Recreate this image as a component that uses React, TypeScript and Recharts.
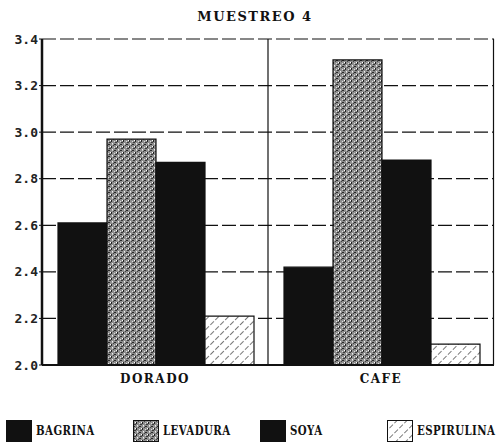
import React from 'react';
import { BarChart, Bar, XAxis, YAxis, CartesianGrid, Legend } from 'recharts';

const title = 'MUESTREO 4';
const categories = ['DORADO', 'CAFE'];
const seriesNames = ['BAGRINA', 'LEVADURA', 'SOYA', 'ESPIRULINA'];
const bagrina = [2.61, 2.42];
const levadura = [2.97, 3.31];
const soya = [2.87, 2.88];
const espirulina = [2.21, 2.09];
const yTicks = [2.0, 2.2, 2.4, 2.6, 2.8, 3.0, 3.2, 3.4];

const seriesValues = [bagrina, levadura, soya, espirulina];
const fills = ['#111', 'url(#speckle)', '#111', 'url(#hatch)'];

const data = categories.map((c, i) => {
  const row: any = { name: c };
  seriesNames.forEach((s, k) => {
    row[s] = seriesValues[k][i];
  });
  return row;
});

const font = '"DejaVu Serif", "Liberation Serif", serif';

const Patterns = () => (
  <svg width={0} height={0} style={{ position: 'absolute' }}>
    <defs>
      <pattern id="speckle" width="6" height="6" patternUnits="userSpaceOnUse">
        <rect width="6" height="6" fill="#8e8e8e" />
        <rect x="0" y="0" width="2" height="1" fill="#2a2a2a" />
        <rect x="3" y="2" width="1" height="2" fill="#222" />
        <rect x="1" y="4" width="2" height="1" fill="#3a3a3a" />
        <rect x="5" y="1" width="1" height="1" fill="#444" />
        <rect x="4" y="5" width="1" height="1" fill="#eee" />
        <rect x="2" y="2" width="1" height="1" fill="#fff" />
        <rect x="0" y="3" width="1" height="1" fill="#ddd" />
        <rect x="4" y="0" width="1" height="1" fill="#ccc" />
      </pattern>
      <pattern id="hatch" width="7" height="7" patternUnits="userSpaceOnUse" patternTransform="rotate(45)">
        <rect width="7" height="7" fill="#fff" />
        <line x1="0" y1="0" x2="0" y2="7" stroke="#555" strokeWidth="1.6" strokeDasharray="4 2" />
      </pattern>
    </defs>
  </svg>
);

const LegendContent = () => (
  <div style={{ position: 'relative', width: 498, height: 46 }}>
    {seriesNames.map((s, i) => (
      <div
        key={s}
        style={{
          position: 'absolute',
          left: 6 + i * 127,
          top: 18,
          display: 'flex',
          alignItems: 'center',
          height: 22,
        }}
      >
        <svg width={26} height={22}>
          <rect x={0.5} y={0.5} width={25} height={21} fill={fills[i]} stroke="#111" />
        </svg>
        <span
          style={{
            marginLeft: 4,
            fontFamily: font,
            fontWeight: 'bold',
            fontSize: 12,
            color: '#111',
            letterSpacing: 0.5,
            transform: 'scaleX(0.85)',
            transformOrigin: 'left center',
            whiteSpace: 'nowrap',
          }}
        >
          {s}
        </span>
      </div>
    ))}
  </div>
);

export default function App() {
  return (
    <div style={{ position: 'absolute', left: 0, top: 0, width: 498, height: 448, background: '#fff' }}>
      <Patterns />
      <div
        style={{
          position: 'absolute',
          left: 0,
          top: 9,
          width: 510,
          textAlign: 'center',
          fontFamily: font,
          fontWeight: 'bold',
          fontSize: 13,
          letterSpacing: 1.5,
          color: '#111',
        }}
      >
        {title}
      </div>
      <BarChart
        width={498}
        height={448}
        data={data}
        margin={{ top: 39, right: 4, left: 0, bottom: 0 }}
        barCategoryGap={16}
        barGap={0}
      >
        <CartesianGrid
          vertical={false}
          stroke="#111"
          strokeWidth={1.2}
          strokeDasharray="14 4"
        />
        <CartesianGrid
          horizontal={false}
          stroke="#111"
          strokeWidth={1.2}
          verticalCoordinatesGenerator={({ offset }: any) => [
            offset.left + offset.width / 2,
            offset.left + offset.width - 0.5,
          ]}
        />
        <XAxis
          dataKey="name"
          height={37}
          tickLine={false}
          axisLine={{ stroke: '#111', strokeWidth: 2 }}
          tick={{ fill: '#111', fontFamily: font, fontSize: 12, fontWeight: 'bold', letterSpacing: 1.5 }}
          tickMargin={3}
        />
        <YAxis
          domain={[2.0, 3.4]}
          ticks={yTicks}
          width={42}
          interval={0}
          tickFormatter={(v: number) => v.toFixed(1)}
          tickSize={3}
          tickMargin={1}
          tickLine={{ stroke: '#111' }}
          axisLine={{ stroke: '#111', strokeWidth: 2.5 }}
          tick={{ fill: '#222', fontFamily: '"DejaVu Sans Mono", monospace', fontSize: 13, fontWeight: 'bold' }}
        />
        <Legend verticalAlign="bottom" content={<LegendContent />} wrapperStyle={{ left: 0, bottom: 0, width: 498, height: 46 }} />
        {seriesNames.map((s, i) => (
          <Bar
            key={s}
            dataKey={s}
            fill={fills[i]}
            stroke="#111"
            strokeWidth={1.2}
            isAnimationActive={false}
          />
        ))}
      </BarChart>
    </div>
  );
}
